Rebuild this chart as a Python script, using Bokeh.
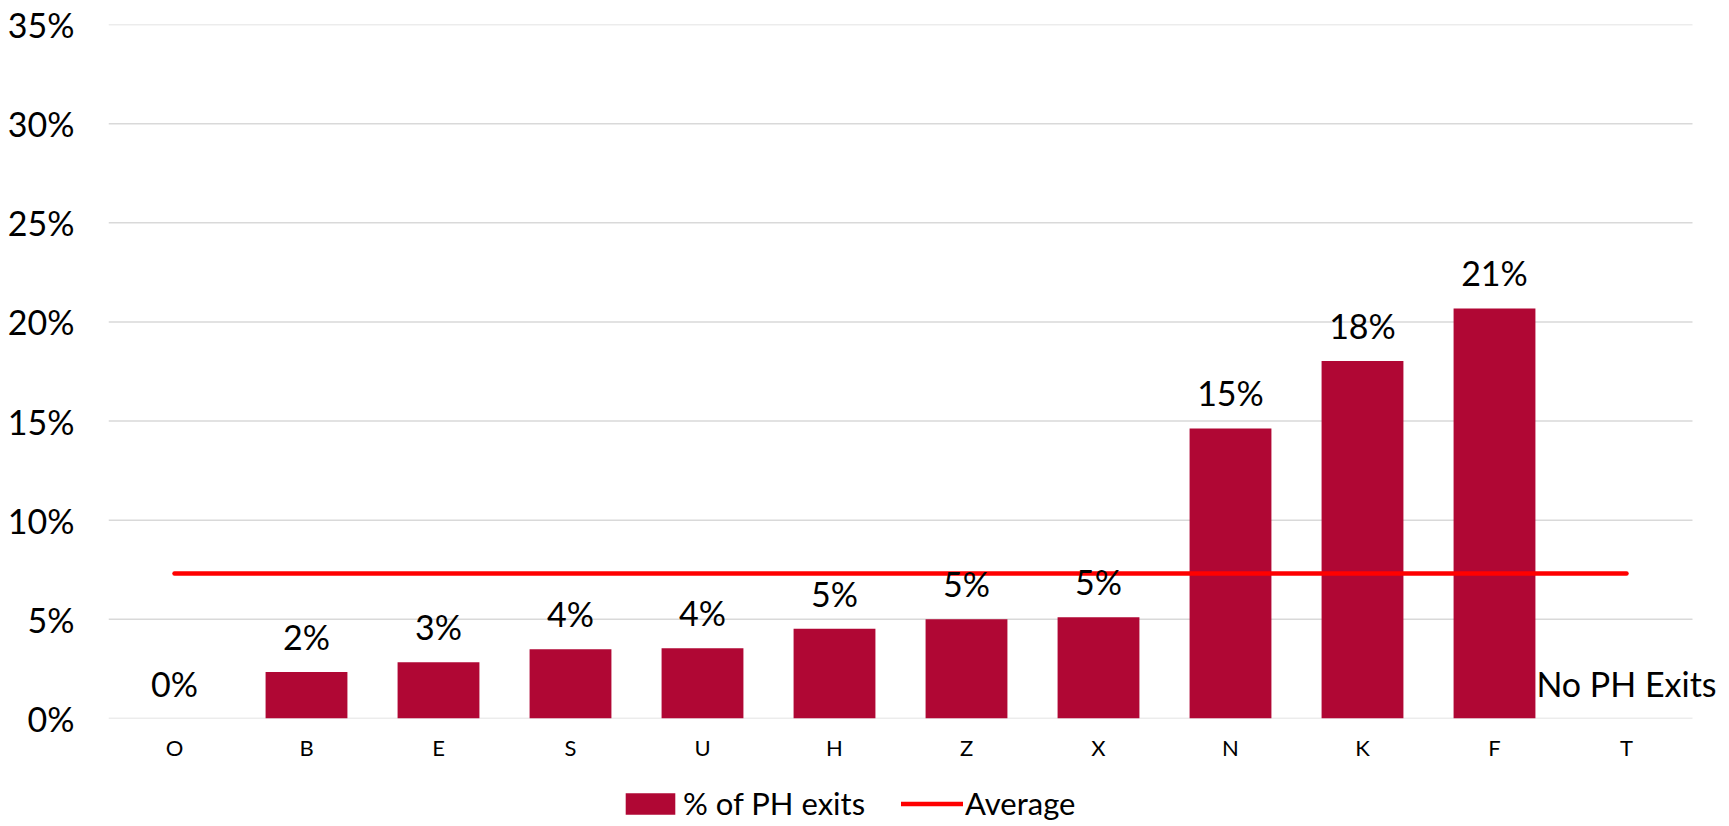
from bokeh.plotting import figure
from bokeh.layouts import column
from bokeh.models import (ColumnDataSource, LabelSet, Legend, LegendItem,
                          NumeralTickFormatter, FixedTicker, Range1d)
from bokeh.core.properties import value
from bokeh.embed import file_html
from bokeh.resources import INLINE

# ---- data ----
categories = ["O", "B", "E", "S", "U", "H", "Z", "X", "N", "K", "F", "T"]
pct_ph_exits = [0.0, 0.0234, 0.0284, 0.0349, 0.0354, 0.0453, 0.0500, 0.0511,
                0.1463, 0.1803, 0.2068, 0.0]
bar_labels = ["0%", "2%", "3%", "4%", "4%", "5%", "5%", "5%", "15%", "18%", "21%",
              "No PH Exits"]
average_value = 0.0731
y_ticks = [0.0, 0.05, 0.10, 0.15, 0.20, 0.25, 0.30, 0.35]

FONT = "Lato"
BAR_COLOR = "#B00734"
AVG_COLOR = "#FF0000"
GRID_COLOR = "#D9D9D9"
BAR_WIDTH = 0.62
AVG_WIDTH = 4.5

# layout geometry (pixels)
FIG_W = 1720
BORDER_L, BORDER_R, BORDER_T, BORDER_B = 108, 1, 24, 52
PLOT_H = 694          # 0% .. 35%
CAT_PX = 132          # width of one category slot
LEGEND_H = 52

x_idx = list(range(len(categories)))
src = ColumnDataSource(dict(x=x_idx, cat=categories, val=pct_ph_exits, lab=bar_labels))
avg_src = ColumnDataSource(dict(x=[x_idx[0], x_idx[-1]], y=[average_value, average_value]))

n = len(categories)
frame_w = FIG_W - BORDER_L - BORDER_R
p = figure(width=FIG_W, height=BORDER_T + PLOT_H + BORDER_B,
           x_range=Range1d(-0.5, -0.5 + frame_w / CAT_PX),
           y_range=Range1d(0, 0.35),
           output_backend="svg", toolbar_location=None,
           min_border_left=BORDER_L, min_border_right=BORDER_R,
           min_border_top=BORDER_T, min_border_bottom=BORDER_B)

p.outline_line_color = None
p.background_fill_color = "white"
p.border_fill_color = "white"

# horizontal gridlines spanning the category slots only
p.segment(x0=[-0.5] * len(y_ticks), x1=[n - 0.5] * len(y_ticks),
          y0=y_ticks, y1=y_ticks, line_color=GRID_COLOR, line_width=1.5)

bars = p.vbar(x="x", top="val", width=BAR_WIDTH, source=src,
              fill_color=BAR_COLOR, line_color=None)

avg_line = p.line(x="x", y="y", source=avg_src,
                  line_color=AVG_COLOR, line_width=AVG_WIDTH, line_cap="round")

labels = LabelSet(x="x", y="val", text="lab", source=src,
                  y_offset=22, text_align="center", text_baseline="alphabetic",
                  text_font=value(FONT), text_font_size="34px", text_color="black")
p.add_layout(labels)

# axes
p.yaxis.ticker = FixedTicker(ticks=y_ticks)
p.yaxis.formatter = NumeralTickFormatter(format="0%")
p.yaxis.axis_line_color = None
p.yaxis.major_tick_line_color = None
p.yaxis.minor_tick_line_color = None
p.yaxis.major_tick_in = 0
p.yaxis.major_tick_out = 0
p.yaxis.major_label_standoff = 34
p.yaxis.major_label_text_font = FONT
p.yaxis.major_label_text_font_size = "34px"
p.yaxis.major_label_text_color = "black"

p.xaxis.ticker = FixedTicker(ticks=x_idx)
p.xaxis.major_label_overrides = {i: c for i, c in zip(x_idx, categories)}
p.xaxis.axis_line_color = None
p.xaxis.major_tick_line_color = None
p.xaxis.minor_tick_line_color = None
p.xaxis.major_tick_in = 0
p.xaxis.major_tick_out = 0
p.xaxis.major_label_standoff = 15
p.xaxis.major_label_text_font = FONT
p.xaxis.major_label_text_font_size = "22px"
p.xaxis.major_label_text_color = "black"

p.xgrid.grid_line_color = None
p.ygrid.grid_line_color = None

# ---- legend strip (own figure so the legend is not clipped by the chart frame) ----
lg = figure(width=FIG_W, height=LEGEND_H, x_range=Range1d(0, 1), y_range=Range1d(0, 1),
            output_backend="svg", toolbar_location=None,
            x_axis_location=None, y_axis_location=None,
            min_border_left=0, min_border_right=0, min_border_top=0, min_border_bottom=0)
lg.outline_line_color = None
lg.xgrid.grid_line_color = None
lg.ygrid.grid_line_color = None
lg_bar = lg.vbar(x="x", top="val", width=BAR_WIDTH, source=src,
                 fill_color=BAR_COLOR, line_color=None, visible=False)
lg_line = lg.line(x="x", y="y", source=avg_src, line_color=AVG_COLOR,
                  line_width=AVG_WIDTH, line_cap="round", visible=False)

legend = Legend(items=[LegendItem(label="% of PH exits", renderers=[lg_bar]),
                       LegendItem(label="Average", renderers=[lg_line])],
                orientation="horizontal", location=(511, 0),
                glyph_width=62, glyph_height=27, label_standoff=2, spacing=36,
                padding=0, margin=0, border_line_color=None,
                background_fill_alpha=0, inactive_fill_alpha=0,
                label_text_font=FONT, label_text_font_size="31px",
                label_text_color="black")
lg.add_layout(legend, "center")

layout = column(p, lg, spacing=0)
open("out.html", "w").write(file_html(layout, INLINE))
